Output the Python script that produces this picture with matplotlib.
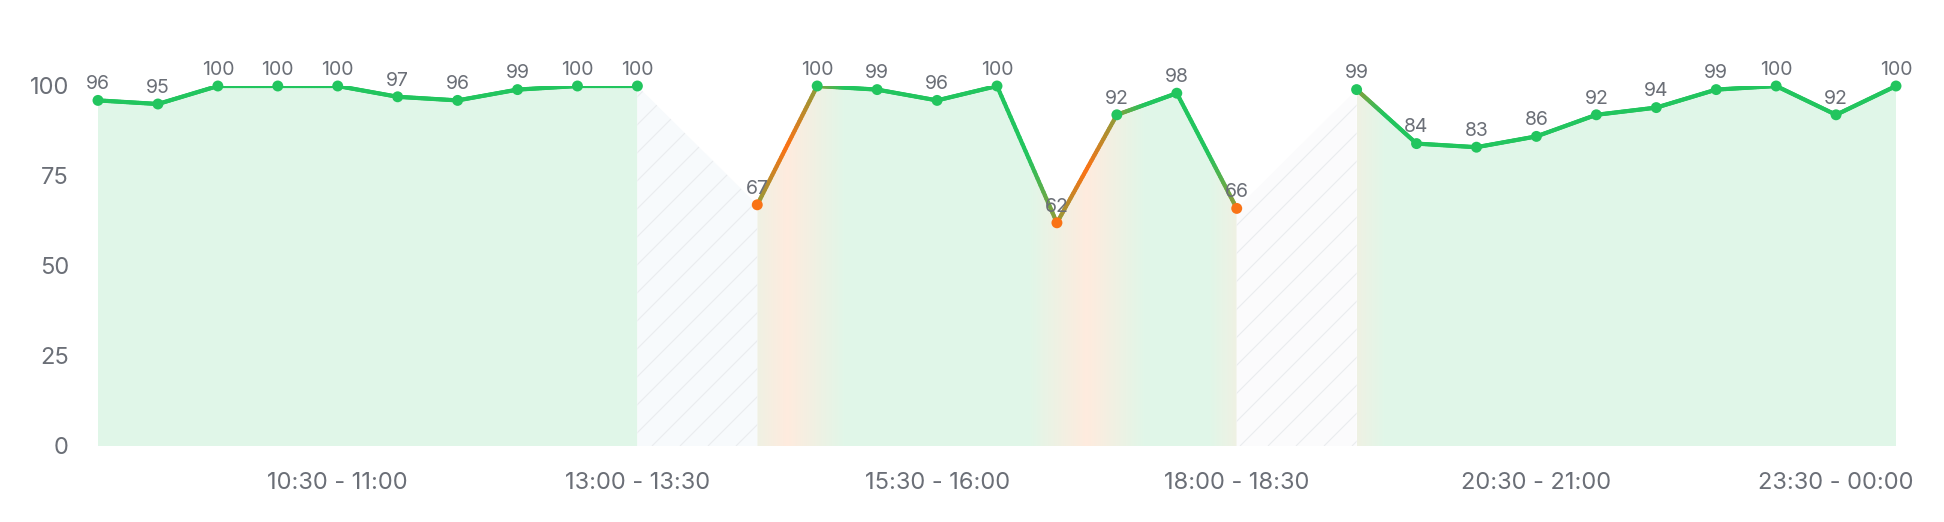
import numpy as np
import matplotlib
matplotlib.use("Agg")
import matplotlib.pyplot as plt
from matplotlib.collections import LineCollection
from matplotlib.patches import Polygon

# ---------------- data ----------------
values = [96, 95, 100, 100, 100, 97, 96, 99, 100, 100, None,
          67, 100, 99, 96, 100, 62, 92, 98, 66, None,
          99, 84, 83, 86, 92, 94, 99, 100, 92, 100]
tick_pos = [4, 9, 14, 19, 24, 29]
tick_labels = ["10:30 - 11:00", "13:00 - 13:30", "15:30 - 16:00",
               "18:00 - 18:30", "20:30 - 21:00", "23:30 - 00:00"]
y_ticks = [0, 25, 50, 75, 100]
LOW = 70

plt.rcParams["font.family"] = ["Inter", "DejaVu Sans"]

GREEN = np.array([34, 197, 94]) / 255
ORANGE = np.array([249, 115, 22]) / 255
TXT = "#6b6f77"

n = len(values)
# status: 1 = low; null inherits previous
status = []
for i, v in enumerate(values):
    if v is None:
        status.append(status[-1] if status else 0)
    else:
        status.append(1 if v < LOW else 0)
status = np.array(status, float)

H_TR = 0.48


def weight(x):
    x = np.atleast_1d(x).astype(float)
    out = np.empty_like(x)
    for j, xv in enumerate(x):
        k = int(np.round(xv))
        k = min(max(k, 0), n - 1)
        d = xv - k
        prev = status[k - 1] if k > 0 else status[0]
        cur = status[k]
        if d >= H_TR:
            out[j] = cur
        elif d <= -H_TR:
            out[j] = prev
        else:
            t = (d + H_TR) / (2 * H_TR)
            out[j] = prev + (cur - prev) * t
    return out


def mix(w):
    w = np.asarray(w)[..., None]
    return GREEN * (1 - w) + ORANGE * w


fig = plt.figure(figsize=(19.44, 5.22), dpi=100)
W_px, H_px = 1798, 360
ax = fig.add_axes([98 / 1944, 76 / 522, W_px / 1944, H_px / 522])

# contiguous segments
segments = []
cur = []
for i, v in enumerate(values):
    if v is None:
        if cur:
            segments.append(cur)
        cur = []
    else:
        cur.append(i)
if cur:
    segments.append(cur)

# gradient area fills
for seg in segments:
    a, b = seg[0], seg[-1]
    xs = np.linspace(a, b, 800)
    cols = mix(weight(xs))
    alpha = 0.14
    rgb = 1 - alpha * (1 - cols)
    img = rgb[None, :, :]
    verts = [(a, 0)] + [(i, values[i]) for i in seg] + [(b, 0)]
    poly = Polygon(verts, closed=True, facecolor="none", edgecolor="none")
    ax.add_patch(poly)
    im = ax.imshow(img, extent=[a, b, 0, 100], aspect="auto",
                   interpolation="bilinear", zorder=1)
    im.set_clip_path(poly)

# hatched gaps
gap_bg = ["#f7fafc", "#fbfbfc"]
for k in range(len(segments) - 1):
    a = segments[k][-1]
    b = segments[k + 1][0]
    verts = [(a, 0), (a, values[a]), (b, values[b]), (b, 0)]
    poly = Polygon(verts, closed=True, facecolor=gap_bg[k % 2],
                   edgecolor="none", zorder=1)
    ax.add_patch(poly)
    step = 28 / W_px
    dx = H_px / W_px
    lines = []
    c = -1.0
    while c < 1.2:
        lines.append([(c, 0), (c + dx, 1)])
        c += step
    lc = LineCollection(lines, colors="#eaecef", linewidths=0.8,
                        transform=ax.transAxes, zorder=1.5)
    ax.add_collection(lc)
    lc.set_clip_path(poly)

# lines with gradient colours
for seg in segments:
    pts = []
    cols = []
    for p, q in zip(seg[:-1], seg[1:]):
        ts = np.linspace(0, 1, 41)
        xs = p + (q - p) * ts
        ys = values[p] + (values[q] - values[p]) * ts
        for k in range(len(ts) - 1):
            pts.append([(xs[k], ys[k]), (xs[k + 1], ys[k + 1])])
            cols.append(mix(weight((xs[k] + xs[k + 1]) / 2))[0])
    lc = LineCollection(pts, colors=cols, linewidths=3.0, capstyle="round",
                        joinstyle="round", zorder=3)
    ax.add_collection(lc)

# markers
xv = [i for i, v in enumerate(values) if v is not None]
yv = [values[i] for i in xv]
mc = [ORANGE if status[i] else GREEN for i in xv]
ax.scatter(xv, yv, s=62, c=mc, zorder=4, linewidths=0, clip_on=False)

# data labels
for i, v in zip(xv, yv):
    ax.annotate(str(v), (i, v), xytext=(0, 8), textcoords="offset points",
                ha="center", va="baseline", fontsize=14, color=TXT,
                zorder=5, annotation_clip=False)

ax.set_xlim(0, n - 1)
ax.set_ylim(0, 100)
ax.set_yticks(y_ticks)
ax.set_xticks(tick_pos, tick_labels)
ax.tick_params(axis="both", length=0, labelsize=17, labelcolor=TXT)
ax.tick_params(axis="y", pad=21)
ax.tick_params(axis="x", pad=19)
for s in ax.spines.values():
    s.set_visible(False)
ax.set_facecolor("white")

fig.savefig("out.png", dpi=100, facecolor="white")
